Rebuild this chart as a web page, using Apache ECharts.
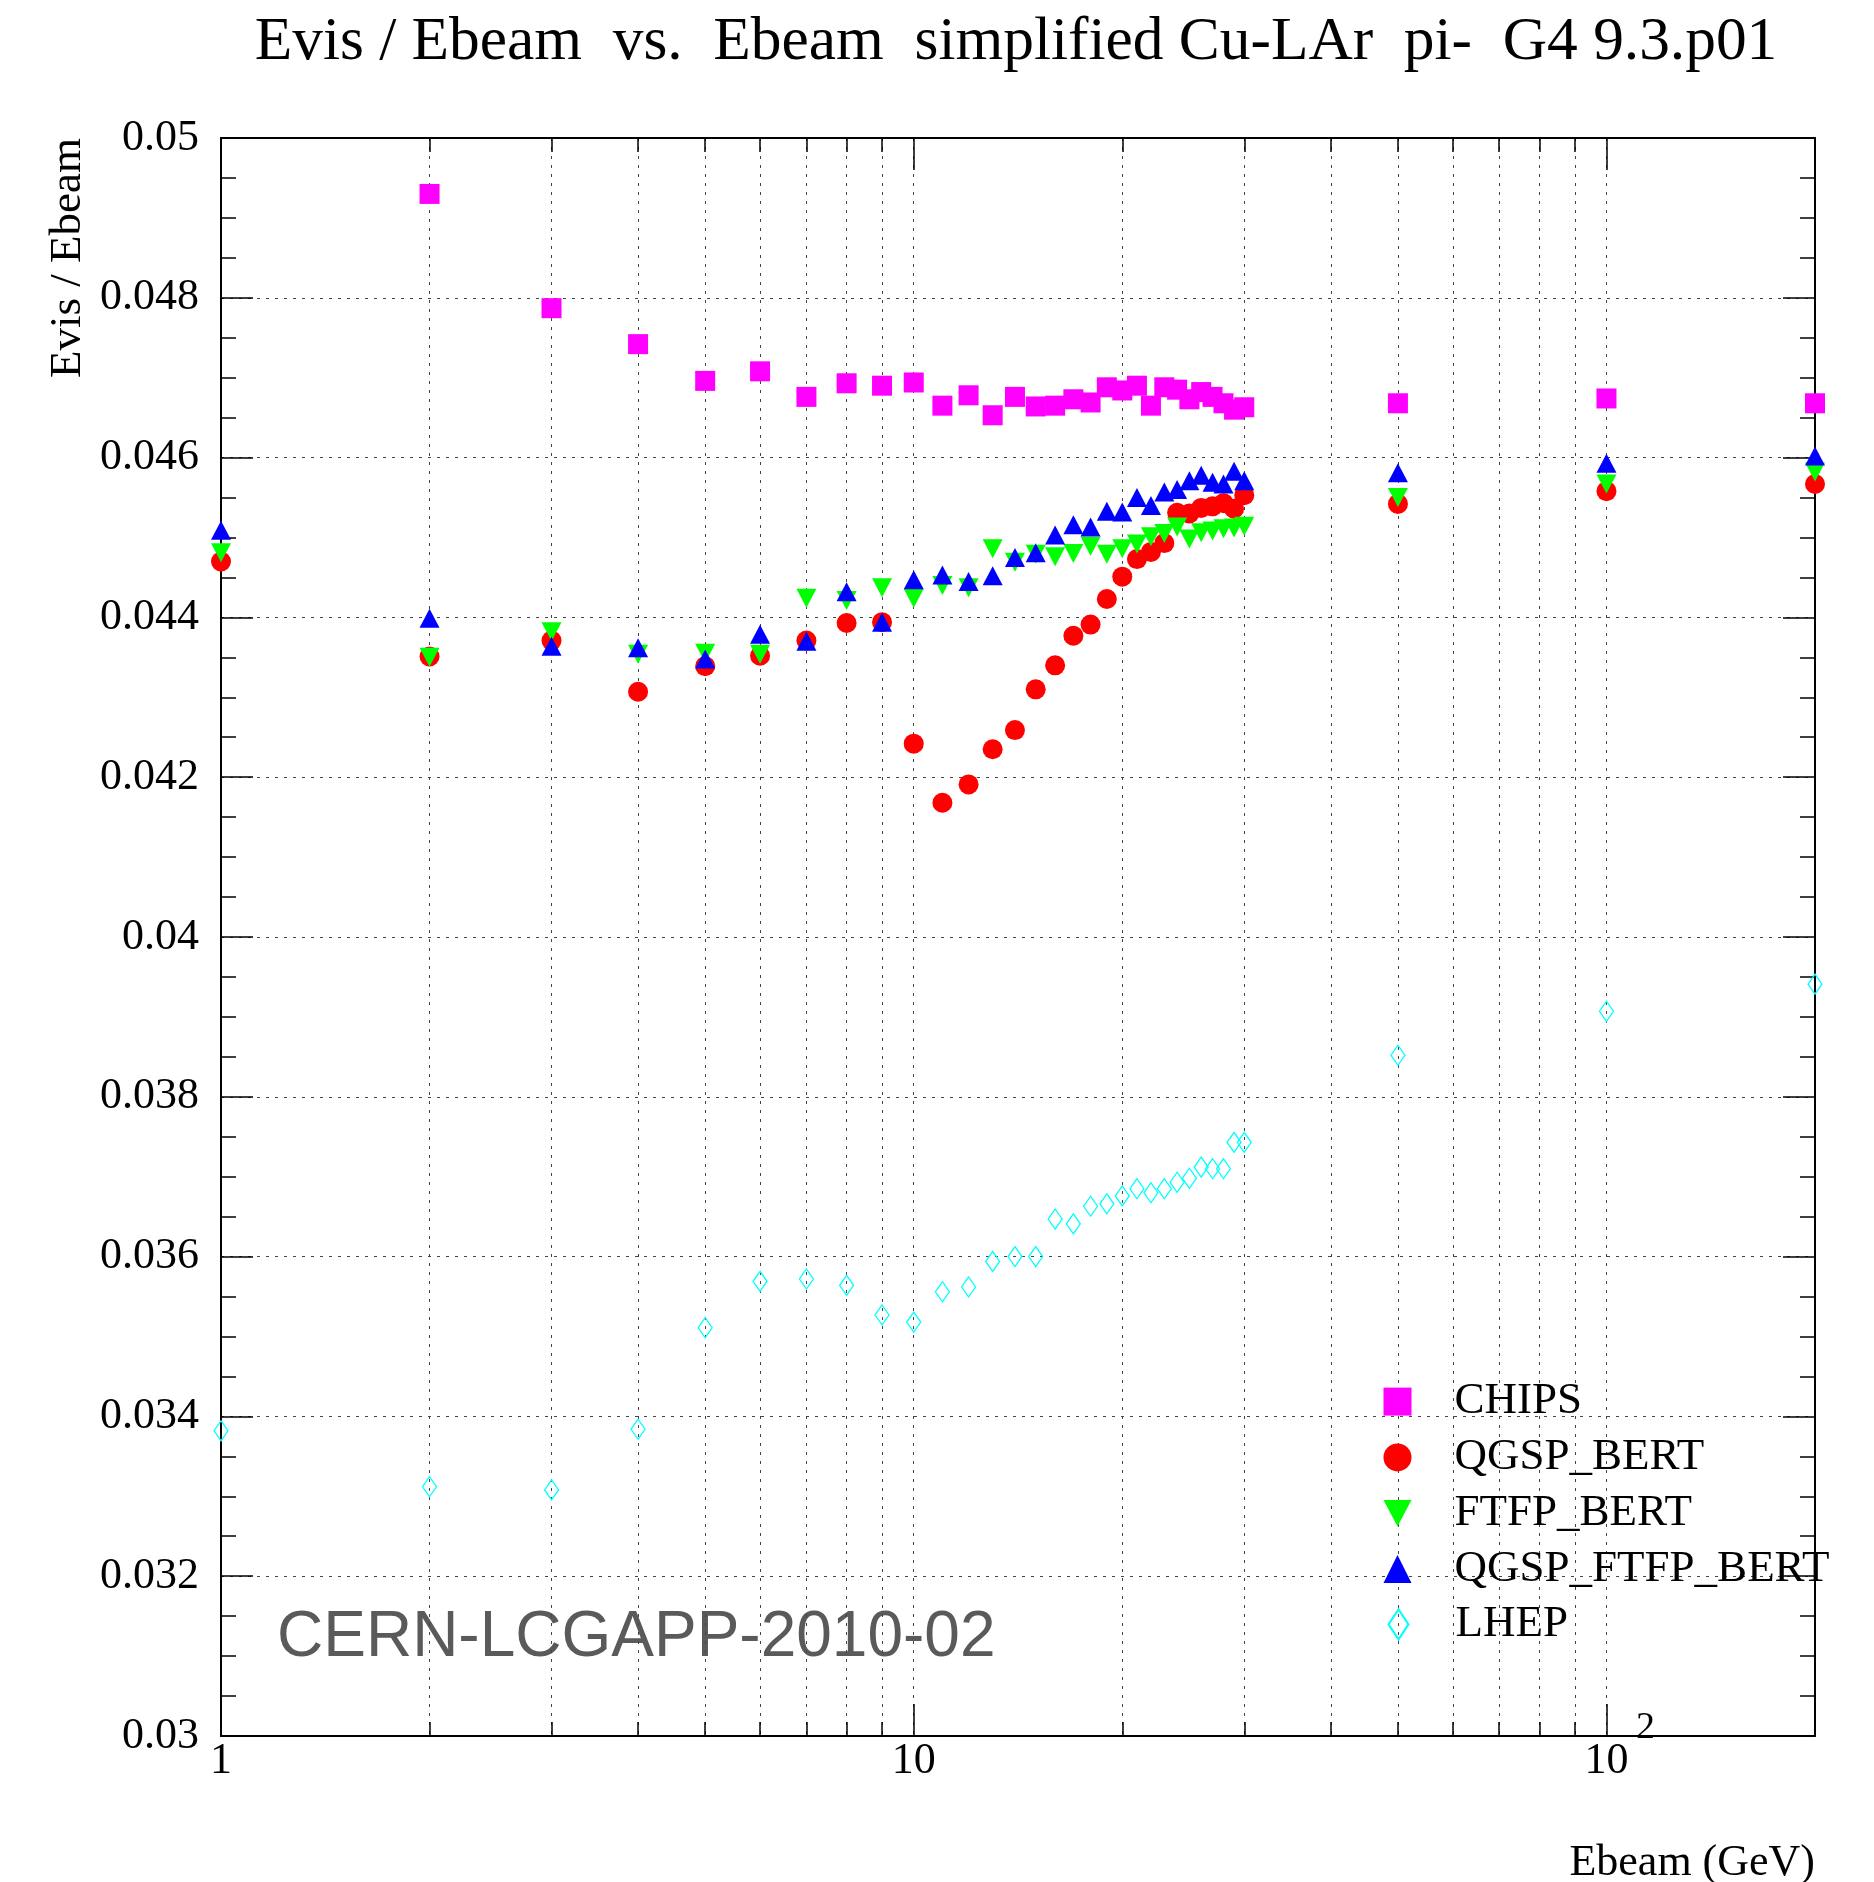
<!DOCTYPE html>
<html>
<head>
<meta charset="utf-8">
<script src="https://cdn.jsdelivr.net/npm/echarts@6/dist/echarts.min.js"></script>
<style>
  html, body { margin: 0; padding: 0; background: #fff; }
  #chart { width: 1874px; height: 1882px; }
</style>
</head>
<body>
<div id="chart"></div>
<script>
// Beam energies (GeV)
const energies = [1, 2, 3, 4, 5, 6, 7, 8, 9, 10,
  11, 12, 13, 14, 15, 16, 17, 18, 19, 20,
  21, 22, 23, 24, 25, 26, 27, 28, 29, 30,
  50, 100, 200];

// Evis / Ebeam per physics list
const chips = [null, 0.04930, 0.04787, 0.04742, 0.04696, 0.04708, 0.04676, 0.04693, 0.04690, 0.04694,
  0.04665, 0.04678, 0.04653, 0.04676, 0.04664, 0.04665, 0.04673, 0.04669, 0.04688, 0.04684,
  0.04690, 0.04665, 0.04688, 0.04685, 0.04673, 0.04682, 0.04676, 0.04668, 0.04660, 0.04663,
  0.04668, 0.04674, 0.04668];

const qgspBert = [0.04470, 0.04351, 0.04371, 0.04307, 0.04339, 0.04352, 0.04371, 0.04393, 0.04394, 0.04242,
  0.04168, 0.04191, 0.04235, 0.04259, 0.04310, 0.04340, 0.04377, 0.04391, 0.04423, 0.04451,
  0.04473, 0.04482, 0.04493, 0.04531, 0.04530, 0.04537, 0.04539, 0.04543, 0.04536, 0.04553,
  0.04542, 0.04558, 0.04567];

const ftfpBert = [0.04481, 0.04350, 0.04382, 0.04354, 0.04355, 0.04354, 0.04424, 0.04421, 0.04437, 0.04424,
  0.04440, 0.04437, 0.04486, 0.04469, 0.04479, 0.04476, 0.04480, 0.04489, 0.04479, 0.04486,
  0.04492, 0.04501, 0.04505, 0.04513, 0.04498, 0.04506, 0.04508, 0.04511, 0.04512, 0.04514,
  0.04550, 0.04567, 0.04582];

const qgspFtfpBert = [0.04509, 0.04399, 0.04364, 0.04362, 0.04348, 0.04379, 0.04370, 0.04432, 0.04394, 0.04447,
  0.04453, 0.04445, 0.04452, 0.04475, 0.04481, 0.04503, 0.04516, 0.04513, 0.04533, 0.04532,
  0.04550, 0.04540, 0.04557, 0.04560, 0.04571, 0.04578, 0.04569, 0.04567, 0.04583, 0.04571,
  0.04581, 0.04593, 0.04602];

const lhep = [0.03382, 0.03312, 0.03308, 0.03384, 0.03511, 0.03569, 0.03572, 0.03564, 0.03527, 0.03518,
  0.03556, 0.03562, 0.03594, 0.03600, 0.03600, 0.03647, 0.03641, 0.03663, 0.03666, 0.03676,
  0.03685, 0.03680, 0.03685, 0.03693, 0.03698, 0.03712, 0.03710, 0.03710, 0.03743, 0.03743,
  0.03852, 0.03907, 0.03941];

// Axis ticks and labels
const xMajorTicks = [1, 10, 100];
const xMajorLabels = ['1', '10', '10'];
const xExponentTicks = [100];
const xExponentLabels = ['2'];
const xMinorTicks = [2, 3, 4, 5, 6, 7, 8, 9, 20, 30, 40, 50, 60, 70, 80, 90, 200];
const X_MIN = 1, X_MAX = 200;
const Y_MIN = 0.03, Y_MAX = 0.05, Y_STEP = 0.002;

const titleText = 'Evis / Ebeam  vs.  Ebeam  simplified Cu-LAr  pi-  G4 9.3.p01';
const yTitle = 'Evis / Ebeam';
const xTitle = 'Ebeam (GeV)';
const stamp = 'CERN-LCGAPP-2010-02';

const SERIF = 'Liberation Serif';
const SANS = 'Liberation Sans';

function pairs(values) {
  const out = [];
  energies.forEach((e, i) => { if (values[i] != null) out.push([e, values[i]]); });
  return out;
}

function labelFor(ticks, labels) {
  return function (v) {
    let best = 0;
    ticks.forEach((t, i) => { if (Math.abs(Math.log10(t) - Math.log10(v)) < Math.abs(Math.log10(ticks[best]) - Math.log10(v))) best = i; });
    return labels[best];
  };
}

const gridDash = { color: '#444', width: 1, type: [3, 6] };
const frame = { show: true, lineStyle: { color: '#000', width: 2 } };
const tickLine = { color: '#000', width: 1.5 };

function xAxis(position, ticks, tickLen, opts) {
  return Object.assign({
    type: 'log', logBase: 10, min: X_MIN, max: X_MAX, position: position,
    axisLine: frame,
    axisTick: { show: tickLen > 0, inside: true, length: tickLen, customValues: ticks, lineStyle: tickLine },
    axisLabel: { show: false },
    splitLine: { show: false },
    minorTick: { show: false },
    minorSplitLine: { show: false }
  }, opts || {});
}

const option = {
  animation: false,
  backgroundColor: '#fff',
  grid: { left: 221, top: 138, right: 59, bottom: 146, containLabel: false, outerBoundsMode: 'none' },
  xAxis: [
    xAxis('bottom', xMajorTicks, 32, {
      axisLabel: {
        show: true, customValues: xMajorTicks, margin: 3,
        color: '#000', fontFamily: SERIF, fontSize: 44, lineHeight: 44,
        formatter: labelFor(xMajorTicks, xMajorLabels)
      },
      splitLine: { show: true, lineStyle: gridDash }
    }),
    xAxis('bottom', xMinorTicks, 14, { axisLine: { show: false }, splitLine: { show: true, lineStyle: gridDash } }),
    xAxis('top', xMajorTicks, 32),
    xAxis('top', xMinorTicks, 14, { axisLine: { show: false } }),
    // exponent of the 10^2 label
    xAxis('bottom', xExponentTicks, 0, {
      axisLine: { show: false },
      axisLabel: {
        show: true, customValues: xExponentTicks, margin: -27,
        color: '#000', fontFamily: SERIF, fontSize: 38, lineHeight: 38,
        padding: [0, 0, 0, 78],
        formatter: labelFor(xExponentTicks, xExponentLabels)
      }
    })
  ],
  yAxis: [
    {
      type: 'value', min: Y_MIN, max: Y_MAX, interval: Y_STEP, position: 'left',
      axisLine: frame,
      axisTick: { show: true, inside: true, length: 32, lineStyle: tickLine },
      minorTick: { show: true, splitNumber: 4, length: 15, lineStyle: tickLine },
      axisLabel: {
        show: true, margin: 22, color: '#000', fontFamily: SERIF, fontSize: 44,
        formatter: function (v) { return String(parseFloat(v.toFixed(4))); }
      },
      splitLine: { show: true, lineStyle: gridDash }
    },
    {
      type: 'value', min: Y_MIN, max: Y_MAX, interval: Y_STEP, position: 'right',
      axisLine: frame,
      axisTick: { show: true, inside: true, length: 32, lineStyle: tickLine },
      minorTick: { show: true, splitNumber: 4, length: 15, lineStyle: tickLine },
      axisLabel: { show: false },
      splitLine: { show: false }
    }
  ],
  legend: [
    {
      data: ['CHIPS', 'QGSP_BERT', 'FTFP_BERT', 'QGSP_FTFP_BERT'],
      orient: 'vertical', left: 1383.5, top: 1379.1, padding: 0,
      itemWidth: 28, itemHeight: 28, itemGap: 10.8, selectedMode: false,
      textStyle: { fontFamily: SERIF, fontSize: 45, lineHeight: 45, color: '#000', padding: [0, 0, 0, 38] }
    },
    {
      data: ['LHEP'],
      orient: 'vertical', left: 1387.5, top: 1601.9, padding: 0,
      itemWidth: 20, itemHeight: 30, selectedMode: false,
      textStyle: { fontFamily: SERIF, fontSize: 45, lineHeight: 45, color: '#000', padding: [0, 0, 0, 42] }
    }
  ],
  series: [
    { name: 'CHIPS', type: 'scatter', data: pairs(chips), symbol: 'rect', symbolSize: 20,
      itemStyle: { color: '#ff00ff', opacity: 1 }, clip: true },
    { name: 'QGSP_BERT', type: 'scatter', data: pairs(qgspBert), symbol: 'circle', symbolSize: 20,
      itemStyle: { color: '#ff0000', opacity: 1 }, clip: true },
    { name: 'FTFP_BERT', type: 'scatter', data: pairs(ftfpBert), symbol: 'path://M0,0L20,0L10,19Z', symbolSize: [20, 19],
      itemStyle: { color: '#00ff00', opacity: 1 }, clip: true },
    { name: 'QGSP_FTFP_BERT', type: 'scatter', data: pairs(qgspFtfpBert), symbol: 'triangle', symbolSize: [20, 19],
      itemStyle: { color: '#0000ff', opacity: 1 }, clip: true },
    { name: 'LHEP', type: 'scatter', data: pairs(lhep), symbol: 'diamond', symbolSize: [14, 20],
      itemStyle: { color: 'rgba(0,0,0,0)', borderColor: '#00ffff', borderWidth: 1.3, opacity: 1 }, clip: true }
  ],
  graphic: [
    { type: 'text', x: 1016, y: 43, silent: true,
      style: { text: titleText, fontFamily: SERIF, fontSize: 61.4, fill: '#000',
        align: 'center', verticalAlign: 'middle', textAlign: 'center', textVerticalAlign: 'middle' } },
    { type: 'text', x: 68.6, y: 138, rotation: Math.PI / 2, silent: true,
      style: { text: yTitle, fontFamily: SERIF, fontSize: 45, fill: '#000',
        align: 'right', verticalAlign: 'middle', textAlign: 'right', textVerticalAlign: 'middle' } },
    { type: 'text', x: 1815, y: 1863, silent: true,
      style: { text: xTitle, fontFamily: SERIF, fontSize: 44, fill: '#000',
        align: 'right', verticalAlign: 'middle', textAlign: 'right', textVerticalAlign: 'middle' } },
    { type: 'text', x: 277, y: 1638, silent: true,
      style: { text: stamp, fontFamily: SANS, fontSize: 64, fill: '#5a5a5a',
        align: 'left', verticalAlign: 'middle', textAlign: 'left', textVerticalAlign: 'middle' } }
  ]
};

const chart = echarts.init(document.getElementById('chart'), null, { renderer: 'canvas' });
chart.setOption(option);
</script>
</body>
</html>
